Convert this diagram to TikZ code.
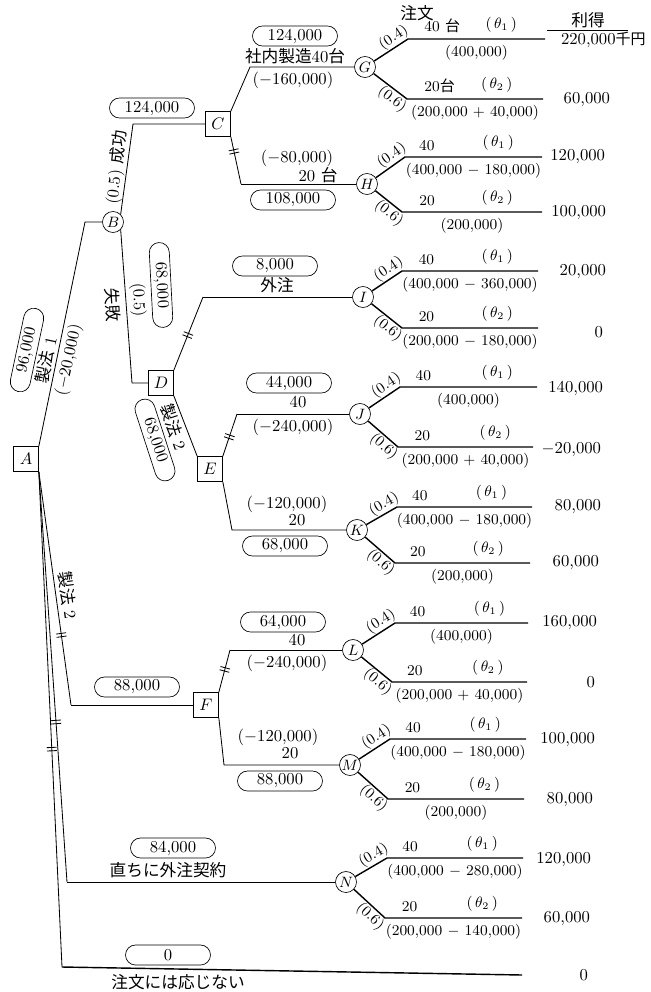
\documentclass[tikz,border=0pt]{standalone}
\usepackage{fontspec}
\newfontfamily\jpfont{Noto Sans CJK JP}
\usetikzlibrary{decorations.markings}

\begin{document}
\begin{tikzpicture}[
    x=0.6pt, y=-0.6pt,
    decision/.style={rectangle, draw=black, minimum size=15pt, inner sep=0pt},
    chance/.style={circle, draw=black, minimum size=12.6pt, inner sep=0pt, font=\small},
    pill/.style={rectangle, draw=black, rounded corners=6pt, minimum width=51pt, minimum height=12pt, inner sep=1pt},
    txt/.style={inner sep=1pt},
    jtxt/.style={inner sep=1pt, font=\jpfont},
    prob/.style={inner sep=0.5pt, font=\small, pos=0.72},
    outc/.style={font=\small},
    payoff/.style={anchor=east, inner sep=1pt},
    link/.style={-, line width=0.5pt},
    branch/.style={-, line width=0.85pt},
    barred/.style={postaction={decorate, decoration={markings, mark=at position #1 with {\draw[line width=0.5pt] (-1pt,-3pt) -- (-1pt,3pt) (1pt,-3pt) -- (1pt,3pt);}}}}
]
\useasboundingbox (0,0) rectangle (651,992);

% Decision & Chance Nodes
\node[decision] (A) at (26,459) {$A$};
\node[chance] (B) at (113,222) {$B$};
\node[decision] (C) at (218,124) {$C$};
\node[decision] (D) at (161,383) {$D$};
\node[decision] (E) at (210,469) {$E$};
\node[decision] (F) at (206,705) {$F$};
\node[chance] (G) at (365,67) {$G$};
\node[chance] (H) at (367,184) {$H$};
\node[chance] (I) at (363,297) {$I$};
\node[chance] (J) at (360,414) {$J$};
\node[chance] (K) at (357,530) {$K$};
\node[chance] (L) at (353,650) {$L$};
\node[chance] (M) at (350,765) {$M$};
\node[chance] (N) at (346,882) {$N$};

% Bend Points
\coordinate (ab) at (85,222);
\coordinate (bc) at (133,124);
\coordinate (bd) at (132,383);
\coordinate (cg) at (250,67);
\coordinate (ch) at (241,184);
\coordinate (di) at (203,297);
\coordinate (ej) at (237,414);
\coordinate (ek) at (232,530);
\coordinate (fl) at (230,650);
\coordinate (fm) at (224,765);
\coordinate (af) at (71,705);
\coordinate (an) at (67,882);
\coordinate (a0) at (62,967);
\coordinate (end0) at (522,975);

% Decision Branches
\draw[link] (A.north east) -- (ab) -- (B);
\draw[link] (B.north east) -- (bc) -- (C);
\draw[link] (B.south east) -- (bd) -- (D);
\draw[link] (C.north east) -- (cg) -- (G);
\draw[link, barred=0.31] (C.south east) -- (ch);
\draw[link] (ch) -- (H);
\draw[link, barred=0.48] (D.north east) -- (di);
\draw[link] (di) -- (I);
\draw[link] (D.south east) -- (E.north west);
\draw[link, barred=0.46] (E.north east) -- (ej);
\draw[link] (ej) -- (J);
\draw[link] (E.south east) -- (ek) -- (K);
\draw[link, barred=0.54] (F.north east) -- (fl);
\draw[link] (fl) -- (L);
\draw[link] (F.south east) -- (fm) -- (M);
\draw[link, barred=0.70] (A.south east) -- (af);
\draw[link] (af) -- (F);
\draw[link, barred=0.61] (A.south east) -- (an);
\draw[link] (an) -- (N);
\draw[link, barred=0.56] (A.south east) -- (a0);
\draw[branch] (a0) -- (end0);

% Branch Labels
\node[pill, rotate=78] (vA1) at (27,350) {96,000};
\node[txt, rotate=78] (tA1) at (46,360) {{\jpfont 製法} 1};
\node[txt, rotate=78] (cA1) at (69,360) {($-$20,000)};
\node[pill] (vB1) at (152,108) {124,000};
\node[txt, rotate=84] (pB1) at (115,187) {(0.5)};
\node[jtxt, rotate=84] (tB1) at (118,147) {成功};
\node[jtxt, rotate=-87] (tB2) at (113,305) {失敗};
\node[txt, rotate=-87] (pB2) at (138,300) {(0.5)};
\node[pill, rotate=-87] (vB2) at (161,285) {68,000};
\node[pill] (vC1) at (295,36) {124,000};
\node[txt] (tC1) at (295,56) {{\jpfont 社内製造}40{\jpfont 台}};
\node[txt] (cC1) at (293,80) {($-$160,000)};
\node[txt] (cC2) at (297,158) {($-$80,000)};
\node[txt] (tC2) at (318,175) {20 {\jpfont 台}};
\node[pill] (vC2) at (293,200) {108,000};
\node[pill] (vD1) at (275,266) {8,000};
\node[jtxt] (tD1) at (277,285) {外注};
\node[txt, rotate=-72] (tD2) at (174,427) {{\jpfont 製法} 2};
\node[pill, rotate=-72] (vD2) at (155,440) {68,000};
\node[pill] (vE1) at (289,383) {44,000};
\node[txt] (tE1) at (298,402) {40};
\node[txt] (cE1) at (293,427) {($-$240,000)};
\node[txt] (cE2) at (287,504) {($-$120,000)};
\node[txt] (tE2) at (297,520) {20};
\node[pill] (vE2) at (285,546) {68,000};
\node[pill] (vA2) at (137,687) {88,000};
\node[txt, rotate=-82] (tA2) at (68,595) {{\jpfont 製法} 2};
\node[pill] (vF1) at (283,622) {64,000};
\node[txt] (tF1) at (297,640) {40};
\node[txt] (cF1) at (287,663) {($-$240,000)};
\node[txt] (cF2) at (278,737) {($-$120,000)};
\node[txt] (tF2) at (290,753) {20};
\node[pill] (vF2) at (280,781) {88,000};
\node[pill] (vA3) at (173,848) {84,000};
\node[jtxt] (tA3) at (168,870) {直ちに外注契約};
\node[pill] (vA4) at (168,955) {0};
\node[jtxt] (tA4) at (178,982) {注文には応じない};

% Header
\node[jtxt] (order) at (417,13) {注文};
\node[jtxt] (gain) at (588,20) {利得};
\coordinate (gl) at (547,30);
\coordinate (gr) at (628,30);
\draw[link] (gl) -- (gr);

% Chance Branches
\coordinate (g1) at (408,39); \coordinate (g1e) at (545,39);
\coordinate (g2) at (407,99); \coordinate (g2e) at (543,99);
\draw[branch] (G) -- node[prob, above, sloped] {(0.4)} (g1) -- node[outc, above, pos=0.25] {40 {\jpfont 台}} node[outc, above, pos=0.68] {$(\,\theta_1\,)$} node[outc, midway, below] {(400,000)} (g1e);
\draw[branch] (G) -- node[prob, below, sloped] {(0.6)} (g2) -- node[outc, above, pos=0.24] {20{\jpfont 台}} node[outc, above, pos=0.66] {$(\,\theta_2\,)$} node[outc, midway, below] {(200,000 $+$ 40,000)} (g2e);

\coordinate (h1) at (405,157); \coordinate (h1e) at (542,157);
\coordinate (h2) at (402,212); \coordinate (h2e) at (542,212);
\draw[branch] (H) -- node[prob, above, sloped] {(0.4)} (h1) -- node[outc, above, pos=0.16] {40} node[outc, above, pos=0.68] {$(\,\theta_1\,)$} node[outc, midway, below] {(400,000 $-$ 180,000)} (h1e);
\draw[branch] (H) -- node[prob, below, sloped] {(0.6)} (h2) -- node[outc, above, pos=0.18] {20} node[outc, above, pos=0.68] {$(\,\theta_2\,)$} node[outc, midway, below] {(200,000)} (h2e);

\coordinate (i1) at (402,271); \coordinate (i1e) at (538,271);
\coordinate (i2) at (402,328); \coordinate (i2e) at (538,328);
\draw[branch] (I) -- node[prob, above, sloped] {(0.4)} (i1) -- node[outc, above, pos=0.18] {40} node[outc, above, pos=0.70] {$(\,\theta_1\,)$} node[outc, midway, below] {(400,000 $-$ 360,000)} (i1e);
\draw[branch] (I) -- node[prob, below, sloped] {(0.6)} (i2) -- node[outc, above, pos=0.18] {20} node[outc, above, pos=0.70] {$(\,\theta_2\,)$} node[outc, midway, below] {(200,000 $-$ 180,000)} (i2e);

\coordinate (j1) at (400,387); \coordinate (j1e) at (537,387);
\coordinate (j2) at (398,447); \coordinate (j2e) at (533,447);
\draw[branch] (J) -- node[prob, above, sloped] {(0.4)} (j1) -- node[outc, above, pos=0.17] {40} node[outc, above, pos=0.71] {$(\,\theta_1\,)$} node[outc, midway, below] {(400,000)} (j1e);
\draw[branch] (J) -- node[prob, below, sloped] {(0.6)} (j2) -- node[outc, above, pos=0.18] {20} node[outc, above, pos=0.72] {$(\,\theta_2\,)$} node[outc, midway, below] {(200,000 $+$ 40,000)} (j2e);

\coordinate (k1) at (397,507); \coordinate (k1e) at (532,507);
\coordinate (k2) at (395,563); \coordinate (k2e) at (530,563);
\draw[branch] (K) -- node[prob, above, sloped] {(0.4)} (k1) -- node[outc, above, pos=0.17] {40} node[outc, above, pos=0.70] {$(\,\theta_1\,)$} node[outc, midway, below] {(400,000 $-$ 180,000)} (k1e);
\draw[branch] (K) -- node[prob, below, sloped] {(0.6)} (k2) -- node[outc, above, pos=0.17] {20} node[outc, above, pos=0.69] {$(\,\theta_2\,)$} node[outc, midway, below] {(200,000)} (k2e);

\coordinate (l1) at (395,623); \coordinate (l1e) at (528,623);
\coordinate (l2) at (392,682); \coordinate (l2e) at (527,682);
\draw[branch] (L) -- node[prob, above, sloped] {(0.4)} (l1) -- node[outc, above, pos=0.17] {40} node[outc, above, pos=0.71] {$(\,\theta_1\,)$} node[outc, midway, below] {(400,000)} (l1e);
\draw[branch] (L) -- node[prob, below, sloped] {(0.6)} (l2) -- node[outc, above, pos=0.17] {20} node[outc, above, pos=0.71] {$(\,\theta_2\,)$} node[outc, midway, below] {(200,000 $+$ 40,000)} (l2e);

\coordinate (m1) at (390,739); \coordinate (m1e) at (526,739);
\coordinate (m2) at (388,799); \coordinate (m2e) at (524,799);
\draw[branch] (M) -- node[prob, above, sloped] {(0.4)} (m1) -- node[outc, above, pos=0.17] {40} node[outc, above, pos=0.70] {$(\,\theta_1\,)$} node[outc, midway, below] {(400,000 $-$ 180,000)} (m1e);
\draw[branch] (M) -- node[prob, below, sloped] {(0.6)} (m2) -- node[outc, above, pos=0.18] {20} node[outc, above, pos=0.71] {$(\,\theta_2\,)$} node[outc, midway, below] {(200,000)} (m2e);

\coordinate (n1) at (387,858); \coordinate (n1e) at (523,858);
\coordinate (n2) at (385,918); \coordinate (n2e) at (522,918);
\draw[branch] (N) -- node[prob, above, sloped] {(0.4)} (n1) -- node[outc, above, pos=0.17] {40} node[outc, above, pos=0.70] {$(\,\theta_1\,)$} node[outc, midway, below] {(400,000 $-$ 280,000)} (n1e);
\draw[branch] (N) -- node[prob, below, sloped] {(0.6)} (n2) -- node[outc, above, pos=0.18] {20} node[outc, above, pos=0.71] {$(\,\theta_2\,)$} node[outc, midway, below] {(200,000 $-$ 140,000)} (n2e);

% Payoffs
\node[payoff, anchor=west] (pG1) at (559,40) {220,000{\jpfont\small 千円}};
\node[payoff] (pG2) at (612,100) {60,000};
\node[payoff] (pH1) at (607,157) {120,000};
\node[payoff] (pH2) at (608,213) {100,000};
\node[payoff] (pI1) at (608,272) {20,000};
\node[payoff] (pI2) at (605,332) {0};
\node[payoff] (pJ1) at (605,388) {140,000};
\node[payoff] (pJ2) at (603,450) {$-$20,000};
\node[payoff] (pK1) at (603,507) {80,000};
\node[payoff] (pK2) at (601,563) {60,000};
\node[payoff] (pL1) at (599,623) {160,000};
\node[payoff] (pL2) at (597,682) {0};
\node[payoff] (pM1) at (597,740) {100,000};
\node[payoff] (pM2) at (595,800) {80,000};
\node[payoff] (pN1) at (593,860) {120,000};
\node[payoff] (pN2) at (592,919) {60,000};
\node[payoff] (p0) at (590,975) {0};

\end{tikzpicture}
\end{document}
